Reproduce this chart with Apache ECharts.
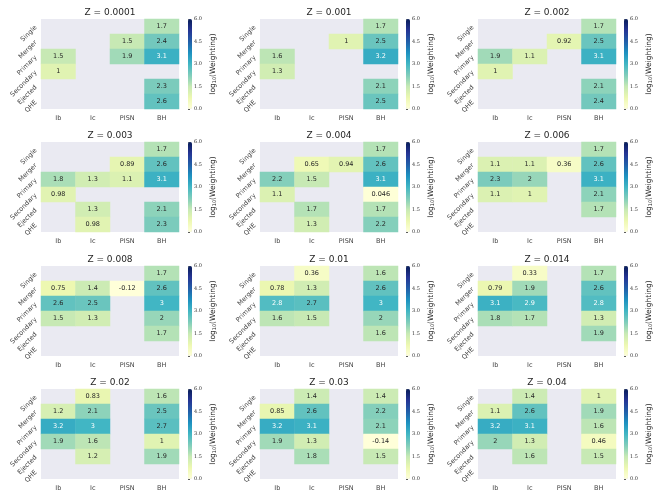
<!DOCTYPE html>
<html>
<head>
<meta charset="utf-8">
<script src="https://cdn.jsdelivr.net/npm/echarts@6/dist/echarts.min.js"></script>
<style>
  html, body { margin: 0; padding: 0; background: #fff; }
  #chart { width: 664px; height: 501px; }
</style>
</head>
<body>
<div id="chart"></div>
<script>
// categories
const xCats = ['Ib', 'Ic', 'PISN', 'BH'];
const yCats = ['Single', 'Merger', 'Primary', 'Secondary', 'Ejected', 'QHE'];
const zLabels = ['0.0001', '0.001', '0.002', '0.003', '0.004', '0.006',
                 '0.008', '0.01', '0.014', '0.02', '0.03', '0.04'];
const cbTicks = [0, 1.5, 3, 4.5, 6];

// log10(Weighting), rows = yCats, cols = xCats, null = empty
const z0001 = [[null, null, null, 1.7], [null, null, 1.5, 2.4], [1.5, null, 1.9, 3.1],
               [1, null, null, null], [null, null, null, 2.3], [null, null, null, 2.6]];
const z001  = [[null, null, null, 1.7], [null, null, 1, 2.5], [1.6, null, null, 3.2],
               [1.3, null, null, null], [null, null, null, 2.1], [null, null, null, 2.5]];
const z002  = [[null, null, null, 1.7], [null, null, 0.92, 2.5], [1.9, 1.1, null, 3.1],
               [1, null, null, null], [null, null, null, 2.1], [null, null, null, 2.4]];
const z003  = [[null, null, null, 1.7], [null, null, 0.89, 2.6], [1.8, 1.3, 1.1, 3.1],
               [0.98, null, null, null], [null, 1.3, null, 2.1], [null, 0.98, null, 2.3]];
const z004  = [[null, null, null, 1.7], [null, 0.65, 0.94, 2.6], [2.2, 1.5, null, 3.1],
               [1.1, null, null, 0.046], [null, 1.7, null, 1.7], [null, 1.3, null, 2.2]];
const z006  = [[null, null, null, 1.7], [1.1, 1.1, 0.36, 2.6], [2.3, 2, null, 3.1],
               [1.1, 1, null, 2.1], [null, null, null, 1.7], [null, null, null, null]];
const z008  = [[null, null, null, 1.7], [0.75, 1.4, -0.12, 2.6], [2.6, 2.5, null, 3],
               [1.5, 1.3, null, 2], [null, null, null, 1.7], [null, null, null, null]];
const z01   = [[null, 0.36, null, 1.6], [0.78, 1.3, null, 2.6], [2.8, 2.7, null, 3],
               [1.6, 1.5, null, 2], [null, null, null, 1.6], [null, null, null, null]];
const z014  = [[null, 0.33, null, 1.7], [0.79, 1.9, null, 2.6], [3.1, 2.9, null, 2.8],
               [1.8, 1.7, null, 1.3], [null, null, null, 1.9], [null, null, null, null]];
const z02   = [[null, 0.83, null, 1.6], [1.2, 2.1, null, 2.5], [3.2, 3, null, 2.7],
               [1.9, 1.6, null, 1], [null, 1.2, null, 1.9], [null, null, null, null]];
const z03   = [[null, 1.4, null, 1.4], [0.85, 2.6, null, 2.2], [3.2, 3.1, null, 2.1],
               [1.9, 1.3, null, -0.14], [null, 1.8, null, 1.5], [null, null, null, null]];
const z04   = [[null, 1.4, null, 1], [1.1, 2.6, null, 1.9], [3.2, 3.1, null, 1.6],
               [2, 1.3, null, 0.46], [null, 1.6, null, 1.5], [null, null, null, null]];
const panels = [z0001, z001, z002, z003, z004, z006, z008, z01, z014, z02, z03, z04];

const ylgnbu = ['#ffffd9', '#edf8b1', '#c7e9b4', '#7fcdbb', '#41b6c4',
                '#1d91c0', '#225ea8', '#253494', '#081d58'];

// layout
const colLeft = [41, 260, 478];
const cbLeft = [188, 406, 624];
const rowTop = [19, 142, 266, 389];
const gw = 138, gh = 90, cbw = 4;
const font = 'DejaVu Sans';
const txt = '#262626';

function fmt(v) {
  return String(Number(v.toPrecision(2)));
}

const grid = [], xAxis = [], yAxis = [], series = [], visualMap = [], title = [];

panels.forEach((m, i) => {
  const r = Math.floor(i / 3), c = i % 3;
  const top = rowTop[r];
  const data = [];
  m.forEach((row, yi) => row.forEach((v, xi) => {
    if (v !== null) data.push([xi, yi, v]);
  }));

  title.push({
    text: 'Z = ' + zLabels[i],
    left: colLeft[c] + gw / 2, top: top - 11, textAlign: 'center', padding: 0,
    textStyle: { fontFamily: font, fontSize: 9, fontWeight: 'normal', color: txt }
  });

  // heatmap grid
  grid.push({ left: colLeft[c], top: top, width: gw, height: gh,
              show: true, backgroundColor: '#eaeaf2', borderWidth: 0 });
  xAxis.push({
    type: 'category', data: xCats, gridIndex: 2 * i,
    axisLine: { show: false }, axisTick: { show: false }, splitLine: { show: false },
    axisLabel: { fontFamily: font, fontSize: 6.5, color: '#444', margin: 6 }
  });
  yAxis.push({
    type: 'category', data: yCats, gridIndex: 2 * i, inverse: true,
    axisLine: { show: false }, axisTick: { show: false }, splitLine: { show: false },
    axisLabel: { fontFamily: font, fontSize: 6.5, color: '#444', rotate: 45, margin: 5 }
  });

  // colorbar axis grid
  grid.push({ left: cbLeft[c], top: top, width: cbw, height: gh, show: false });
  xAxis.push({ type: 'value', gridIndex: 2 * i + 1, show: false });
  yAxis.push({
    type: 'value', gridIndex: 2 * i + 1, position: 'right',
    min: 0, max: 6, interval: 1.5,
    axisLine: { show: false }, splitLine: { show: false },
    axisTick: { show: true, length: 2, lineStyle: { color: '#333', width: 0.8 } },
    axisLabel: { fontFamily: 'DejaVu Serif', fontSize: 5, color: '#333', margin: 2,
                 formatter: v => cbTicks.includes(v) ? v.toFixed(1) : '' },
    name: '{a|log}{s|10}{a|(Weighting)}',
    nameLocation: 'middle', nameRotate: 90, nameGap: 17,
    nameTextStyle: {
      rich: {
        a: { fontFamily: font, fontSize: 7.5, color: txt },
        s: { fontFamily: font, fontSize: 5, color: txt, verticalAlign: 'bottom', padding: [3, 0, 0, 0] }
      }
    }
  });

  visualMap.push({
    type: 'continuous', seriesIndex: i, min: 0, max: 6,
    left: cbLeft[c], top: top, itemWidth: cbw, itemHeight: gh,
    padding: 0, calculable: false, text: null, hoverLink: false,
    inRange: { color: ylgnbu }
  });

  series.push({
    type: 'heatmap', xAxisIndex: 2 * i, yAxisIndex: 2 * i, data: data,
    itemStyle: { borderWidth: 0 },
    emphasis: { disabled: true },
    label: {
      show: true,
      formatter: p => {
        const v = p.value[2];
        return (v >= 2.8 ? '{w|' : '{d|') + fmt(v) + '}';
      },
      rich: {
        w: { fontFamily: font, fontSize: 6.5, color: '#ffffff' },
        d: { fontFamily: font, fontSize: 6.5, color: txt }
      }
    }
  });
});

const chart = echarts.init(document.getElementById('chart'));
chart.setOption({
  backgroundColor: '#fff',
  animation: false,
  title, grid, xAxis, yAxis, visualMap, series
});
</script>
</body>
</html>
